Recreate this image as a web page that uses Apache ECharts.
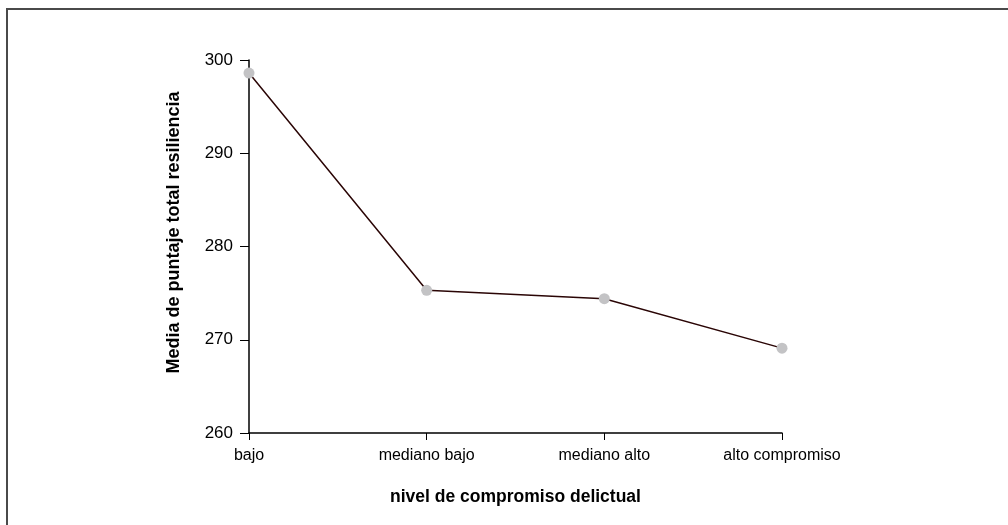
<!DOCTYPE html>
<html>
<head>
<meta charset="utf-8">
<script src="https://cdn.jsdelivr.net/npm/echarts@6/dist/echarts.min.js"></script>
<style>
html,body{margin:0;padding:0;background:#fff;}
#c{width:1008px;height:525px;}
</style>
</head>
<body>
<div id="c"></div>
<script>
const categories = ['bajo', 'mediano bajo', 'mediano alto', 'alto compromiso'];
const meanValues = [298.6, 275.3, 274.4, 269.1];
const yTicks = {min: 260, max: 300, interval: 10};
const xTitle = 'nivel de compromiso delictual';
const yTitle = 'Media de puntaje total resiliencia';

const FONT = '"Liberation Sans", Arial, sans-serif';
const chart = echarts.init(document.getElementById('c'), null, {renderer: 'canvas'});
chart.setOption({
  animation: false,
  backgroundColor: '#ffffff',
  grid: {left: 249, right: 226, top: 60, bottom: 92, containLabel: false},
  graphic: [{
    type: 'rect', silent: true,
    shape: {x: 7, y: 9, width: 1100, height: 600},
    style: {fill: 'none', stroke: '#4a4a4a', lineWidth: 2}
  }],
  xAxis: {
    type: 'category',
    data: categories,
    boundaryGap: false,
    name: xTitle,
    nameLocation: 'middle',
    nameGap: 55,
    nameTextStyle: {fontFamily: FONT, fontWeight: 'bold', fontSize: 17.5, color: '#000'},
    axisLine: {lineStyle: {color: '#000', width: 1.5}},
    axisTick: {show: true, alignWithLabel: true, length: 7, lineStyle: {color: '#000', width: 1}},
    axisLabel: {fontFamily: FONT, fontSize: 16, color: '#000', margin: 15},
    splitLine: {show: false}
  },
  yAxis: {
    type: 'value',
    min: yTicks.min, max: yTicks.max, interval: yTicks.interval,
    name: yTitle,
    nameLocation: 'middle',
    nameRotate: 90,
    nameGap: 66,
    nameTextStyle: {fontFamily: FONT, fontWeight: 'bold', fontSize: 18, color: '#000', padding: [0, 0, 0, 28]},
    axisLine: {show: true, lineStyle: {color: '#000', width: 1.5}},
    axisTick: {show: true, length: 9, lineStyle: {color: '#000', width: 1}},
    axisLabel: {fontFamily: FONT, fontSize: 17, color: '#000', margin: 16},
    splitLine: {show: false}
  },
  series: [{
    type: 'line',
    data: meanValues,
    symbol: 'circle',
    symbolSize: 11,
    itemStyle: {color: '#c3c3c5', borderWidth: 0},
    lineStyle: {color: '#2a0505', width: 1.5},
    z: 3
  }]
});
</script>
</body>
</html>
